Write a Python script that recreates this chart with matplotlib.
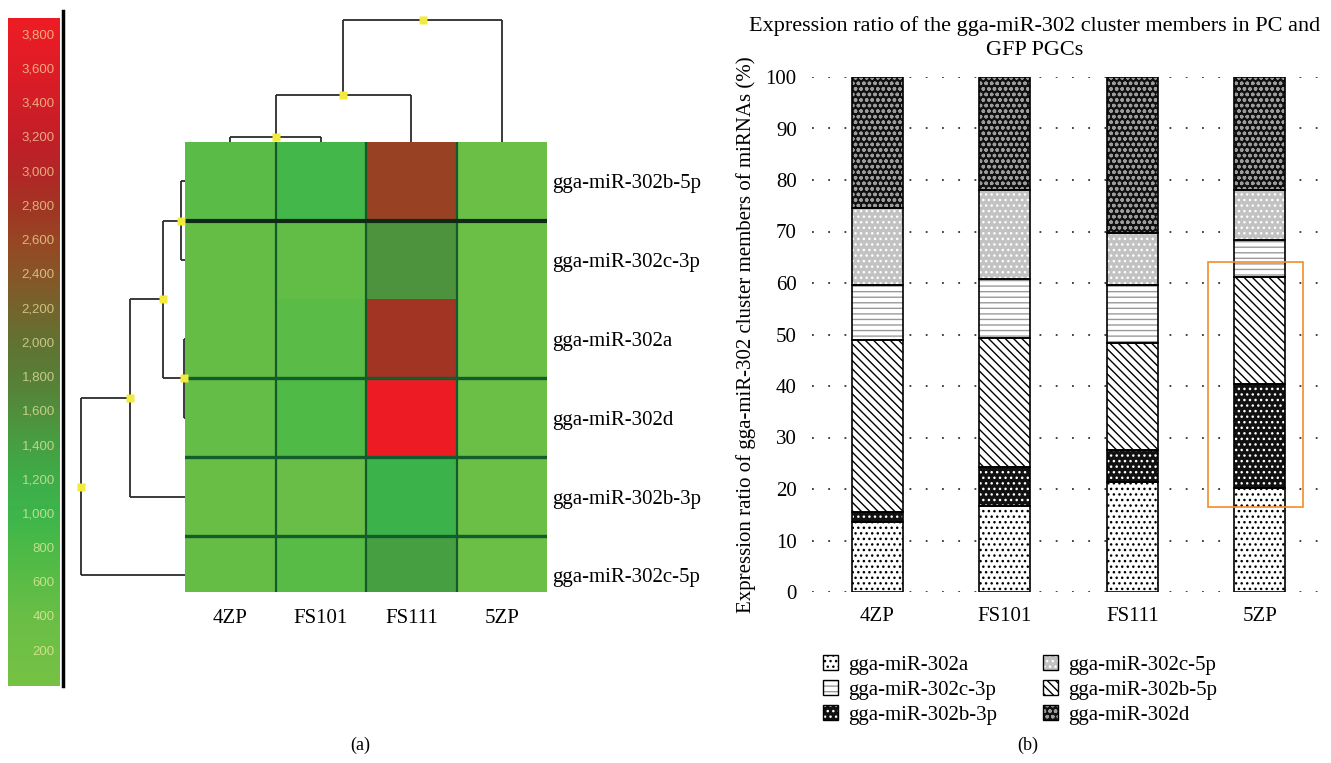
import numpy as np
import matplotlib
matplotlib.use("Agg")
import matplotlib.pyplot as plt
from matplotlib.colors import LinearSegmentedColormap, Normalize
from matplotlib.cm import ScalarMappable
from matplotlib.patches import Patch, Rectangle
from matplotlib.legend_handler import HandlerTuple

W, H = 1331, 763

# ---- panel (a): heatmap ----
samples = ["4ZP", "FS101", "FS111", "5ZP"]
mirnas_heat = ["gga-miR-302b-5p", "gga-miR-302c-3p", "gga-miR-302a",
               "gga-miR-302d", "gga-miR-302b-3p", "gga-miR-302c-5p"]
expr_4zp = [600, 450, 450, 480, 400, 450]
expr_fs101 = [900, 500, 600, 750, 420, 650]
expr_fs111 = [2650, 1550, 2800, 3900, 1050, 1400]
expr_5zp = [350, 350, 350, 350, 350, 350]
cbar_ticks = list(range(200, 3801, 200))
# (child a, child b, distance); ids >= n are earlier merges
row_linkage = [(0, 1, 0.43), (2, 3, 0.07), (6, 7, 2.23), (8, 4, 5.5), (9, 5, 10.4)]
col_linkage = [(0, 1, 0.47), (4, 2, 4.67), (5, 3, 12.17)]
row_breaks = [1, 3, 4, 5]

# ---- panel (b): stacked ratios (%) ----
stages = ["4ZP", "FS101", "FS111", "5ZP"]
ratio_302a = [13.6, 16.7, 21.4, 20.2]
ratio_302b_3p = [1.9, 7.6, 6.2, 20.2]
ratio_302b_5p = [33.4, 25.1, 20.7, 20.7]
ratio_302c_3p = [10.8, 11.4, 11.4, 7.2]
ratio_302c_5p = [14.9, 17.3, 10.0, 9.8]
ratio_302d = [25.4, 21.9, 30.3, 21.9]
highlight_stage = 3
highlight_range = (16.5, 64.0)

plt.rcParams['font.family'] = ['Liberation Serif', 'DejaVu Serif']
plt.rcParams['hatch.linewidth'] = 1.0

fig = plt.figure(figsize=(W / 100, H / 100), dpi=100)


def px_axes(x0, y0, x1, y1):
    return fig.add_axes([x0 / W, 1 - y1 / H, (x1 - x0) / W, (y1 - y0) / H])


cmap_stops = [(0, '#76c144'), (400, '#69be46'), (800, '#4bb946'), (1000, '#3cb54b'),
              (1200, '#3eac48'), (1400, '#46a042'), (1600, '#508e3c'), (1800, '#587e37'),
              (2000, '#617332'), (2200, '#73642d'), (2400, '#875528'), (2600, '#964623'),
              (2800, '#a23423'), (3000, '#b22626'), (3200, '#c31e28'), (3600, '#de1c26'),
              (3900, '#ed1c24')]
vmax = 3900
cmap = LinearSegmentedColormap.from_list('rg', [(v / vmax, c) for v, c in cmap_stops])
norm = Normalize(0, vmax)

# colour bar on the far left
cax = px_axes(8, 18, 60, 686)
cb = fig.colorbar(ScalarMappable(norm=norm, cmap=cmap), cax=cax)
cb.outline.set_visible(False)
cax.set_yticks([])
for v in cbar_ticks:
    c = np.array(cmap(norm(v))[:3]) * 0.35 + np.array([0.65, 0.62, 0.45])
    cax.text(0.9, v, f"{v:,}", transform=cax.get_yaxis_transform(), ha='right',
             va='center', fontsize=9.5, color=np.clip(c, 0, 1), family='Liberation Sans')
cax.plot([1.05, 1.05], [0, 1.01], transform=cax.transAxes, color='black', lw=2.5, clip_on=False)

# heatmap
ax_h = px_axes(185, 141.7, 547, 592)
data = np.column_stack([expr_4zp, expr_fs101, expr_fs111, expr_5zp])
ax_h.pcolormesh(np.arange(len(samples) + 1), np.arange(len(mirnas_heat) + 1), data,
                cmap=cmap, norm=norm)
ax_h.set_xlim(0, len(samples))
ax_h.set_ylim(5.71, 0)
for x in range(1, len(samples)):
    ax_h.axvline(x, color='#145a2a', lw=1.6)
for y in row_breaks:
    ax_h.axhline(y, color='#0f2a14' if y == 1 else '#135c2c', lw=3 if y == 1 else 2.4)
for s in ax_h.spines.values():
    s.set_visible(False)
ax_h.set_xticks(np.arange(len(samples)) + 0.5, samples, fontsize=15)
ax_h.set_yticks(np.arange(len(mirnas_heat)) + 0.5, mirnas_heat, fontsize=15)
ax_h.yaxis.tick_right()
ax_h.tick_params(length=0)
ax_h.tick_params(axis='x', pad=12)
ax_h.tick_params(axis='y', pad=4)


def draw_dendrogram(ax, links, n, side):
    pos = {i: i + 0.5 for i in range(n)}
    hgt = {i: 0.0 for i in range(n)}
    for k, (a, b, h) in enumerate(links):
        segs = [([hgt[a], h], [pos[a], pos[a]]), ([hgt[b], h], [pos[b], pos[b]]),
                ([h, h], [pos[a], pos[b]])]
        node = n + k
        pos[node] = (pos[a] + pos[b]) / 2
        hgt[node] = h
        for d, p in segs:
            if side == 'left':
                ax.plot(d, p, color='#2b2b2b', lw=1.3, clip_on=False, solid_capstyle='butt')
            else:
                ax.plot(p, d, color='#2b2b2b', lw=1.3, clip_on=False, solid_capstyle='butt')
        mx, my = (h, pos[node]) if side == 'left' else (pos[node], h)
        ax.plot(mx, my, marker='s', ms=5.5, color='#f2ea3c', mec='none', clip_on=False, zorder=5)


ax_dl = px_axes(70, 141.7, 185, 592)
ax_dl.set_xlim(11.5, 0)
ax_dl.set_ylim(5.71, 0)
draw_dendrogram(ax_dl, row_linkage, len(mirnas_heat), 'left')
ax_dl.axis('off')

ax_dt = px_axes(185, 8, 547, 141.7)
ax_dt.set_xlim(0, len(samples))
ax_dt.set_ylim(0, 13.37)
draw_dendrogram(ax_dt, col_linkage, len(samples), 'top')
ax_dt.axis('off')

fig.text(360 / W, 1 - 745 / H, "(a)", ha='center', va='center', fontsize=13)
fig.text(1028 / W, 1 - 745 / H, "(b)", ha='center', va='center', fontsize=13)

# ---- panel (b) ----
ax = px_axes(812, 77, 1325, 592)
series = [
    ("gga-miR-302a", ratio_302a, 'white', '...', 'black'),
    ("gga-miR-302b-3p", ratio_302b_3p, '#111111', '...', 'white'),
    ("gga-miR-302b-5p", ratio_302b_5p, 'white', '\\\\\\\\', 'black'),
    ("gga-miR-302c-3p", ratio_302c_3p, 'white', '---', '#9a9a9a'),
    ("gga-miR-302c-5p", ratio_302c_5p, '#c2c2c2', '...', 'white'),
    ("gga-miR-302d", ratio_302d, '#111111', 'ooo', '#9c9c9c'),
]
x = np.arange(len(stages))
bottom = np.zeros(len(stages))
handles = {}
for name, vals, face, hatch, hcol in series:
    ax.bar(x, vals, 0.4, bottom=bottom, color=face, edgecolor=hcol, hatch=hatch, lw=0, zorder=2)
    ax.bar(x, vals, 0.4, bottom=bottom, fill=False, edgecolor='black', lw=1.2, zorder=3)
    bottom += np.array(vals)
    handles[name] = (Patch(facecolor=face, edgecolor=hcol, hatch=hatch, lw=0),
                     Patch(fill=False, edgecolor='black', lw=1.0))

lo, hi = highlight_range
ax.add_patch(Rectangle((highlight_stage - 0.41, lo), 0.745, hi - lo, fill=False,
                       edgecolor='#f28c28', lw=1.2, zorder=4, clip_on=False))

ax.set_xlim(-0.51, len(stages) - 0.49)
ax.set_ylim(0, 100)
ax.set_yticks(range(0, 101, 10))
ax.set_xticks(x, stages)
ax.tick_params(length=0, labelsize=15)
ax.tick_params(axis='y', pad=11)
ax.tick_params(axis='x', pad=11)
ax.yaxis.grid(True, color='#333333', lw=1.3, linestyle=(0, (1, 8)))
ax.set_axisbelow(True)
for s in ax.spines.values():
    s.set_visible(False)
ax.set_ylabel("Expression ratio of gga-miR-302 cluster members of miRNAs (%)",
              fontsize=15, labelpad=7)

fig.text(1035 / W, 1 - 38 / H,
         "Expression ratio of the gga-miR-302 cluster members in PC and\nGFP PGCs",
         ha='center', va='center', fontsize=16, linespacing=1.3)

order = ["gga-miR-302a", "gga-miR-302c-3p", "gga-miR-302b-3p",
         "gga-miR-302c-5p", "gga-miR-302b-5p", "gga-miR-302d"]
fig.legend([handles[n] for n in order], order, loc='upper left',
           bbox_to_anchor=(813 / W, 1 - 645 / H), ncol=2, frameon=False, borderpad=0,
           fontsize=15, handlelength=0.7, handleheight=0.7, handletextpad=0.5,
           labelspacing=0.25, columnspacing=2.2,
           handler_map={tuple: HandlerTuple(ndivide=1, pad=0)})

fig.savefig("out.png", dpi=100)
